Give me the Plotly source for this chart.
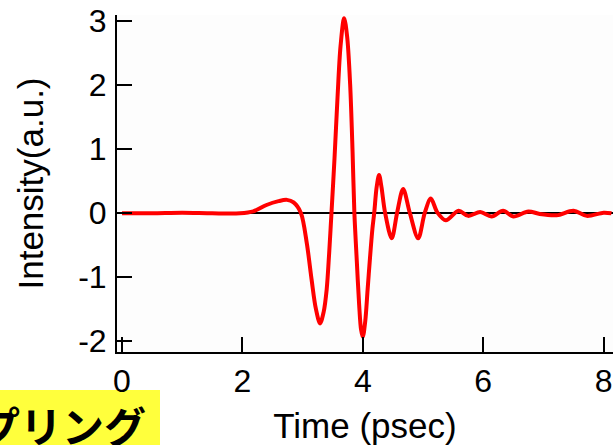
import plotly.graph_objects as go

# Time (psec) and Intensity (a.u.)
time_ps = [0.0, 0.5, 1.0, 1.5, 1.96, 2.18, 2.40, 2.60, 2.74, 2.85, 2.97, 3.07, 3.15, 3.22, 3.29,
           3.35, 3.40, 3.44, 3.48, 3.53, 3.58, 3.63, 3.69, 3.74, 3.79, 3.83, 3.86, 3.90, 3.94,
           3.97, 4.00, 4.04, 4.08, 4.12, 4.16, 4.19, 4.23, 4.27, 4.31, 4.37,
           4.48, 4.57, 4.67, 4.78, 4.92, 5.03, 5.13, 5.24, 5.38, 5.59, 5.75, 5.95, 6.14,
           6.33, 6.50, 6.75, 6.94, 7.22, 7.50, 7.72, 8.00, 8.13]
intensity = [-0.01, -0.01, 0.0, -0.01, -0.01, 0.02, 0.12, 0.18, 0.20, 0.16, 0.0, -0.48, -1.05, -1.50, -1.73,
             -1.55, -1.20, -0.65, 0.0, 0.85, 1.80, 2.60, 3.04, 2.75, 2.00, 0.95, 0.0, -0.75, -1.45,
             -1.82, -1.94, -1.70, -1.20, -0.70, -0.25, 0.0, 0.40, 0.59, 0.40, 0.0,
             -0.40, 0.0, 0.37, 0.0, -0.40, 0.0, 0.22, 0.0, -0.12, 0.03, -0.05, 0.01, -0.06,
             0.03, -0.06, 0.02, -0.02, -0.04, 0.03, -0.05, 0.0, -0.01]

x_ticks = [0, 2, 4, 6, 8]
x_tick_text = ["0", "2", "4", "6", "8"]
y_ticks = [-2, -1, 0, 1, 2, 3]
y_tick_text = ["-2", "-1", "0", "1", "2", "3"]
x_title = "Time (psec)"
y_title = "Intensity(a.u.)"
caption = "プリング"

fig = go.Figure()
fig.add_trace(go.Scatter(x=time_ps, y=intensity, mode="lines",
                         line=dict(color="#ff0000", width=4, shape="spline", smoothing=0.9),
                         showlegend=False, hoverinfo="skip"))

font_family = "Liberation Sans, Arial, sans-serif"
axis_font = dict(family=font_family, size=32, color="black")
fig.update_layout(
    width=613, height=445,
    margin=dict(l=117, r=0, t=15, b=93),
    paper_bgcolor="white", plot_bgcolor="#fdfdfd",
    xaxis=dict(range=[-0.083, 8.156], tickvals=x_ticks, ticktext=x_tick_text, ticks="inside",
               ticklen=15, tickwidth=2, tickcolor="black", showline=True, linecolor="black",
               linewidth=2, showgrid=False, zeroline=False, tickfont=axis_font,
               title=dict(text=x_title, font=dict(family=font_family, size=35, color="black"), standoff=18)),
    yaxis=dict(range=[-2.177, 3.089], tickvals=y_ticks, ticktext=y_tick_text, ticks="inside",
               ticklen=15, tickwidth=2, tickcolor="black", showline=True, linecolor="black",
               linewidth=2, showgrid=False, zeroline=True, zerolinecolor="black", zerolinewidth=2,
               tickfont=axis_font, ticklabelstandoff=2,
               title=dict(text=y_title, font=dict(family=font_family, size=35, color="black"), standoff=24)),
)

fig.add_shape(type="rect", xref="paper", yref="paper",
              x0=-0.25, x1=0.0867, y0=-0.30, y1=-0.1128,
              fillcolor="#ffff3c", line=dict(width=0), layer="below")
fig.add_annotation(text="<b>" + caption + "</b>", xref="paper", yref="paper",
                   x=0.0625, y=-0.2166, xanchor="right", yanchor="middle", showarrow=False,
                   font=dict(family="Noto Sans CJK JP", size=42, color="black"))

fig.write_html("out.html")
